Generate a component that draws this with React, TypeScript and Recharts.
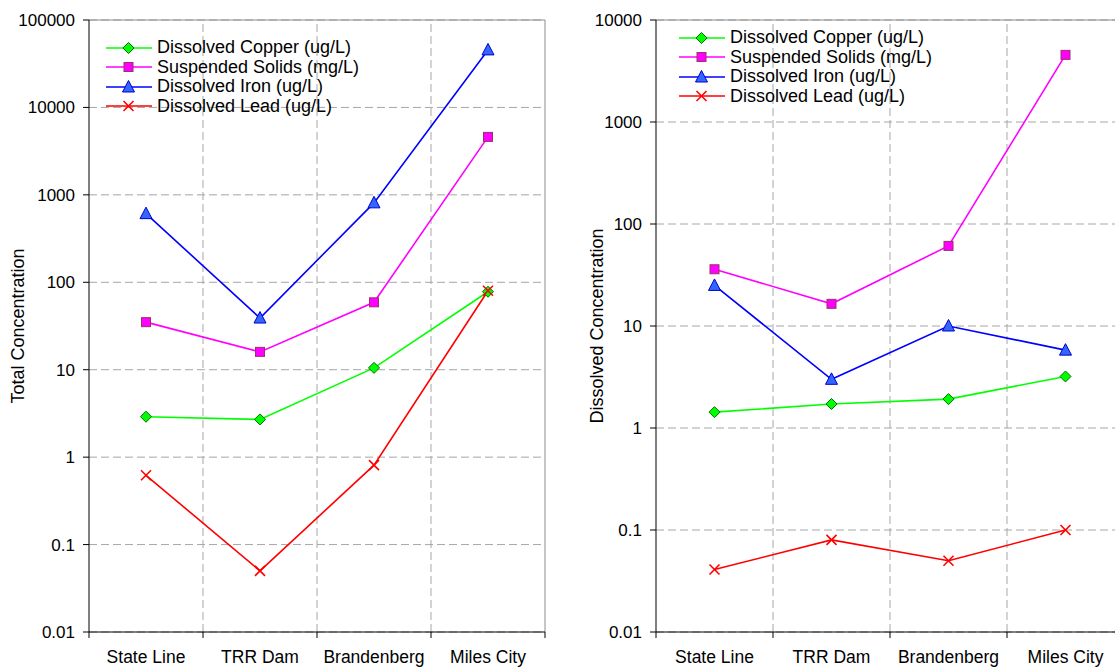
import React from "react";
import {
  LineChart,
  Line,
  XAxis,
  YAxis,
  CartesianGrid,
  ReferenceLine,
  Legend,
} from "recharts";

const SITES = ["State Line", "TRR Dam", "Brandenberg", "Miles City"];

// total concentrations
const TOTAL_COPPER = [2.9, 2.7, 10.5, 78];
const TOTAL_SOLIDS = [35, 16, 59, 4600];
const TOTAL_IRON = [610, 39, 810, 45500];
const TOTAL_LEAD = [0.62, 0.05, 0.81, 80];

// dissolved concentrations
const DISS_COPPER = [1.43, 1.72, 1.92, 3.2];
const DISS_SOLIDS = [36, 16.5, 61, 4550];
const DISS_IRON = [25, 3, 10, 5.8];
const DISS_LEAD = [0.041, 0.08, 0.05, 0.1];

const TOTAL_TICKS = [0.01, 0.1, 1, 10, 100, 1000, 10000, 100000];
const DISS_TICKS = [0.01, 0.1, 1, 10, 100, 1000, 10000];

const FONT = "'Liberation Sans', Arial, sans-serif";
const GRID = "#a6a6a6";
const BORDER = "#8c8c8c";

type MarkerProps = { cx?: number; cy?: number };

const Diamond = ({ cx = 0, cy = 0 }: MarkerProps) => (
  <polygon
    points={`${cx},${cy - 5.5} ${cx + 5.5},${cy} ${cx},${cy + 5.5} ${cx - 5.5},${cy}`}
    fill="#00ff00"
    stroke="#007000"
    strokeWidth={1}
  />
);

const Square = ({ cx = 0, cy = 0 }: MarkerProps) => (
  <rect
    x={cx - 4.5}
    y={cy - 4.5}
    width={9}
    height={9}
    fill="#ff00ff"
    stroke="#993366"
    strokeWidth={1}
  />
);

const Triangle = ({ cx = 0, cy = 0 }: MarkerProps) => (
  <polygon
    points={`${cx},${cy - 6.5} ${cx + 6},${cy + 5} ${cx - 6},${cy + 5}`}
    fill="#3366ff"
    stroke="#0000cc"
    strokeWidth={1}
  />
);

const Cross = ({ cx = 0, cy = 0 }: MarkerProps) => (
  <g stroke="#ff0000" strokeWidth={1.6}>
    <line x1={cx - 5} y1={cy - 5} x2={cx + 5} y2={cy + 5} />
    <line x1={cx - 5} y1={cy + 5} x2={cx + 5} y2={cy - 5} />
  </g>
);

const SERIES = [
  { key: "copper", name: "Dissolved Copper (ug/L)", color: "#00ff00", Marker: Diamond },
  { key: "solids", name: "Suspended Solids (mg/L)", color: "#ff00ff", Marker: Square },
  { key: "iron", name: "Dissolved Iron (ug/L)", color: "#0000ff", Marker: Triangle },
  { key: "lead", name: "Dissolved Lead (ug/L)", color: "#ff0000", Marker: Cross },
];

const buildRows = (
  copper: number[],
  solids: number[],
  iron: number[],
  lead: number[]
) =>
  SITES.map((site, i) => ({
    pos: i + 0.5,
    site,
    copper: copper[i],
    solids: solids[i],
    iron: iron[i],
    lead: lead[i],
  }));

const TOTAL_ROWS = buildRows(TOTAL_COPPER, TOTAL_SOLIDS, TOTAL_IRON, TOTAL_LEAD);
const DISS_ROWS = buildRows(DISS_COPPER, DISS_SOLIDS, DISS_IRON, DISS_LEAD);

// x ticks: whole numbers are category edges (tick marks), halves are site labels
const X_TICKS = [0, 0.5, 1, 1.5, 2, 2.5, 3, 3.5, 4];

function SiteTick(props: any) {
  const { x, y, payload } = props;
  const v = payload.value as number;
  if (Number.isInteger(v)) {
    return <line x1={x} x2={x} y1={y} y2={y + 6} stroke="#000" />;
  }
  return (
    <text x={x} y={y + 31} textAnchor="middle" fontSize={17.5} fill="#000" fontFamily={FONT}>
      {SITES[Math.floor(v)]}
    </text>
  );
}

function LegendBox() {
  return (
    <div style={{ fontFamily: FONT, fontSize: 18, color: "#000" }}>
      {SERIES.map((s) => (
        <div key={s.key} style={{ display: "flex", alignItems: "center", height: 19.5 }}>
          <svg width={46} height={14} style={{ marginRight: 5, overflow: "visible" }}>
            <line x1={0} x2={46} y1={7} y2={7} stroke={s.color} strokeWidth={1.6} />
            <s.Marker cx={22.5} cy={7} />
          </svg>
          <span style={{ lineHeight: "19.5px", whiteSpace: "nowrap" }}>{s.name}</span>
        </div>
      ))}
    </div>
  );
}

type ChartProps = {
  rows: typeof TOTAL_ROWS;
  ticks: number[];
  title: string;
  width: number;
  axisWidth: number;
  rightMargin: number;
  titleOffset: number;
  legendLeft: number;
  legendTop: number;
};

function ConcentrationChart({
  rows,
  ticks,
  title,
  width,
  axisWidth,
  rightMargin,
  titleOffset,
  legendLeft,
  legendTop,
}: ChartProps) {
  const top = ticks[ticks.length - 1];
  return (
    <LineChart
      width={width}
      height={667}
      data={rows}
      margin={{ top: 20, right: rightMargin, bottom: 0, left: 0 }}
    >
      <CartesianGrid vertical={false} stroke={GRID} strokeDasharray="8 4" />
      {[1, 2, 3].map((x) => (
        <ReferenceLine key={x} x={x} stroke={GRID} strokeDasharray="8 4" />
      ))}
      <ReferenceLine y={top} stroke={BORDER} />
      <ReferenceLine x={4} stroke={BORDER} />
      <XAxis
        dataKey="pos"
        type="number"
        domain={[0, 4]}
        ticks={X_TICKS}
        interval={0}
        height={35}
        tickSize={0}
        tickMargin={0}
        tickLine={false}
        axisLine={{ stroke: "#000" }}
        tick={<SiteTick />}
      />
      <YAxis
        type="number"
        scale="log"
        domain={[ticks[0], top]}
        ticks={ticks}
        interval={0}
        allowDataOverflow
        width={axisWidth}
        tickSize={6}
        tickMargin={8}
        axisLine={{ stroke: "#000" }}
        tickLine={{ stroke: "#000" }}
        tick={{ fontSize: 17, fill: "#000", fontFamily: FONT }}
        label={{
          value: title,
          angle: -90,
          position: "insideLeft",
          offset: titleOffset,
          style: { textAnchor: "middle", fontSize: 18, fill: "#000", fontFamily: FONT },
        }}
      />
      {/* centred + middle keeps the legend out of the plot offset; wrapperStyle places it */}
      <Legend
        layout="horizontal"
        verticalAlign="middle"
        align="center"
        wrapperStyle={{ left: legendLeft, top: legendTop, width: "auto" }}
        content={() => <LegendBox />}
      />
      {SERIES.map((s) => (
        <Line
          key={s.key}
          dataKey={s.key}
          name={s.name}
          stroke={s.color}
          strokeWidth={1.6}
          isAnimationActive={false}
          dot={(p: any) => <s.Marker key={`${s.key}-${p.index}`} cx={p.cx} cy={p.cy} />}
          activeDot={false}
        />
      ))}
    </LineChart>
  );
}

export default function App() {
  return (
    <div
      style={{
        position: "absolute",
        left: 0,
        top: 0,
        width: 1115,
        height: 667,
        overflow: "hidden",
        background: "#fff",
        fontFamily: FONT,
      }}
    >
      <div style={{ position: "absolute", left: 0, top: 0 }}>
        <ConcentrationChart
          rows={TOTAL_ROWS}
          ticks={TOTAL_TICKS}
          title="Total Concentration"
          width={560}
          axisWidth={89}
          rightMargin={15}
          titleOffset={18}
          legendLeft={106}
          legendTop={38}
        />
      </div>
      <div style={{ position: "absolute", left: 560, top: 0 }}>
        <ConcentrationChart
          rows={DISS_ROWS}
          ticks={DISS_TICKS}
          title="Dissolved Concentration"
          width={574}
          axisWidth={96}
          rightMargin={10}
          titleOffset={37}
          legendLeft={119}
          legendTop={28}
        />
      </div>
    </div>
  );
}
